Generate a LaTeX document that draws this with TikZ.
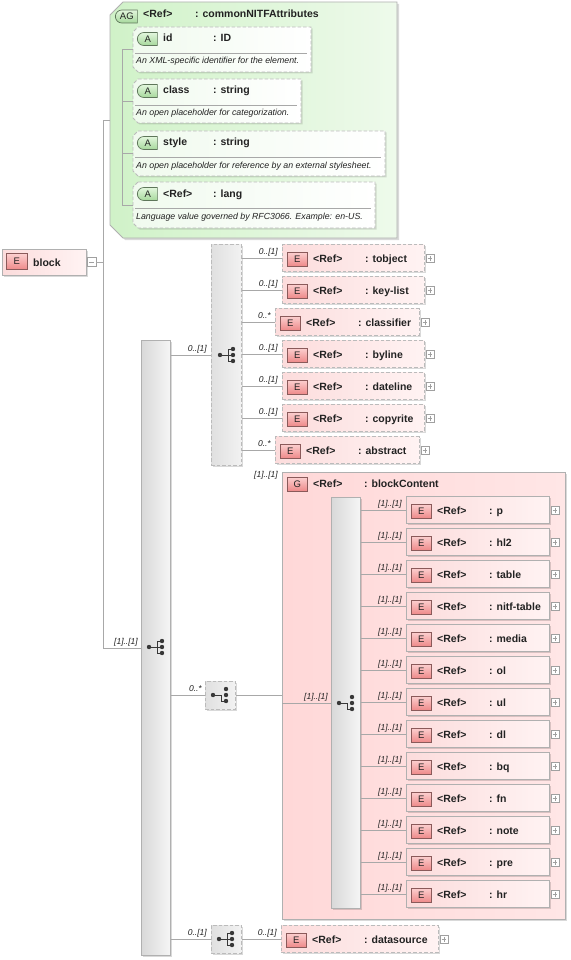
\documentclass[tikz,border=0pt]{standalone}
\usepackage{fontspec}
\setmainfont{Liberation Sans}
\usetikzlibrary{shadows,shapes.misc}
\definecolor{linegray}{HTML}{A8A8A8}
\definecolor{boxgray}{HTML}{B0B0B0}
\definecolor{dashgray}{HTML}{BBBBBB}
\definecolor{txt}{HTML}{222222}
\definecolor{elemL}{HTML}{FCDCDC}
\definecolor{elemR}{HTML}{FFF3F3}
\definecolor{gL}{HTML}{FFD8D8}
\definecolor{gR}{HTML}{FFE6E6}
\definecolor{agL}{HTML}{D0F2C8}
\definecolor{agR}{HTML}{EEFAEB}
\definecolor{atL}{HTML}{F0FAEE}
\definecolor{atR}{HTML}{FFFFFF}
\definecolor{ebT}{HTML}{FCD0D0}
\definecolor{ebB}{HTML}{EE8A8A}
\definecolor{ebD}{HTML}{8A5A5A}
\definecolor{abT}{HTML}{E2F6DC}
\definecolor{abB}{HTML}{A6D89C}
\definecolor{abD}{HTML}{5E765A}
\definecolor{seqL}{HTML}{D8D8D8}
\definecolor{seqR}{HTML}{F6F6F6}
\definecolor{chL}{HTML}{E0E0E0}
\definecolor{chR}{HTML}{F2F2F2}
\definecolor{iconc}{HTML}{383838}
\definecolor{plusgray}{HTML}{A0A0A0}
\tikzset{
 conn/.style={draw=linegray, line width=0.8pt},
 shad/.style={drop shadow={shadow xshift=1.5pt, shadow yshift=-1.5pt, fill=black, opacity=0.15}},
 dsh/.style={draw=dashgray, line width=0.9pt, dash pattern=on 3.5pt off 2pt},
 elem/.style={rectangle, inner sep=0, minimum height=27pt, anchor=west, left color=elemL, right color=elemR, draw=boxgray, line width=0.9pt, shad},
 elemopt/.style={elem, dsh},
 ebadge/.style={rectangle, inner sep=0, minimum width=20pt, minimum height=14pt, anchor=west, draw=ebD, line width=0.7pt, top color=ebT, bottom color=ebB, font=\fontsize{9.5}{10}\selectfont, text=txt},
 abadge/.style={rounded rectangle, rounded rectangle right arc=none, inner sep=0, minimum width=20pt, minimum height=13pt, anchor=west, draw=abD, line width=0.7pt, top color=abT, bottom color=abB, font=\fontsize{9.5}{10}\selectfont, text=txt},
 nm/.style={anchor=base west, inner sep=0, font=\fontsize{10.5}{12}\selectfont\bfseries, text=txt},
 lbl/.style={anchor=base east, inner sep=0, font=\fontsize{8.5}{10}\selectfont\itshape, text=txt},
 dsc/.style={anchor=base west, inner sep=0, font=\fontsize{8.8}{10}\selectfont\itshape, text=txt},
 seqbar/.style={rectangle, anchor=north west, inner sep=0, draw=boxgray, line width=0.9pt, left color=seqL, right color=seqR, shad},
 chbar/.style={rectangle, anchor=north west, inner sep=0, left color=chL, right color=chR, dsh, shad},
 plus/.style={rectangle, inner sep=0, minimum size=8pt, draw=plusgray, fill=white, line width=0.6pt,
   path picture={\draw[plusgray, line width=0.6pt] ([xshift=1.8pt]path picture bounding box.west) -- ([xshift=-1.8pt]path picture bounding box.east) ([yshift=-1.8pt]path picture bounding box.north) -- ([yshift=1.8pt]path picture bounding box.south);}},
 minus/.style={rectangle, inner sep=0, minimum size=9pt, draw=plusgray, fill=white, line width=0.6pt,
   path picture={\draw[plusgray, line width=0.6pt] ([xshift=2pt]path picture bounding box.west) -- ([xshift=-2pt]path picture bounding box.east);}},
 icon/.style={draw=iconc, line width=1pt},
}
\newcommand\elm[8]{%
 \node[#2, minimum width=#5pt] (#1) at (#3,#4) {};
 \node[ebadge] (#1-b) at ([xshift=5pt,yshift=-1pt]#1.west) {E};
 \node[nm] (#1-r) at ([xshift=31pt,yshift=-4pt]#1.west) {<Ref>};
 \node[nm] (#1-n) at ([xshift=83pt,yshift=-4pt]#1.west) {: #6};
 \node[plus] (#1-p) at ([xshift=5pt,yshift=-0.5pt]#1.east) {};
 \node[lbl] (#1-l) at ([xshift=-4pt,yshift=3.5pt]#1.west) {#7};
 \draw[conn] (#1.west -| #8.east) -- (#1.west);
}
\newcommand\attr[8]{%
 \node[anchor=north west, inner sep=0, minimum width=#4pt, minimum height=#5pt] (#1) at (#2,#3) {};
 \fill[black, opacity=0.12] (#2+6.5,#3+1.5) -- (#2+#4+1.5,#3+1.5) -- (#2+#4+1.5,#3+#5+1.5) -- (#2+6.5,#3+#5+1.5) -- (#2+1.5,#3+#5-3.5) -- (#2+1.5,#3+6.5) -- cycle;
 \path[left color=atL, right color=atR, dsh] (#2+5,#3) -- (#2+#4,#3) -- (#2+#4,#3+#5) -- (#2+5,#3+#5) -- (#2,#3+#5-5) -- (#2,#3+5) -- cycle;
 \node[abadge] (#1-b) at (#2+4,#3+12) {A};
 \node[nm] (#1-n) at (#2+30,#3+15) {#6};
 \node[nm] (#1-t) at (#2+80,#3+15) {#7};
 \draw[draw=linegray, line width=0.7pt] (#2+2,#3+26) -- (#2+#4-4,#3+26);
 \node[dsc] (#1-d) at (#2+3,#3+37) {#8};
}
\newcommand\icoA[2]{%
 \draw[icon] (#1-8,#2) -- (#1+5,#2) (#1,#2-6) -- (#1,#2+6) (#1,#2-6) -- (#1+5,#2-6) (#1,#2+6) -- (#1+5,#2+6);
 \fill[iconc] (#1-8,#2) circle (2.2) (#1+5,#2-6) circle (2.2) (#1+5,#2) circle (2.2) (#1+5,#2+6) circle (2.2);
}
\newcommand\icoB[2]{%
 \draw[icon] (#1-8,#2) -- (#1,#2) -- (#1,#2+6) -- (#1+5,#2+6);
 \fill[iconc] (#1-8,#2) circle (2.2) (#1+5,#2-6) circle (2.2) (#1+5,#2) circle (2.2) (#1+5,#2+6) circle (2.2);
}
\begin{document}
\begin{tikzpicture}[x=1pt,y=-1pt]
\useasboundingbox[fill=white] (0,0) rectangle (570,960);
% attribute group
\node[anchor=north west, inner sep=0, minimum width=287pt, minimum height=236pt] (ag) at (110,2) {};
\fill[black, opacity=0.15] (125,4) -- (399,4) -- (399,240) -- (125,240) -- (112,227) -- (112,17) -- cycle;
\path[left color=agL, right color=agR, draw=boxgray, line width=0.9pt] (123,2) -- (397,2) -- (397,238) -- (123,238) -- (110,225) -- (110,15) -- cycle;
\node[abadge, minimum width=22pt] (agb) at (115,16.5) {AG};
\node[nm] (agr) at (143,18) {<Ref>};
\node[nm] (agn) at (195,18) {: commonNITFAttributes};
\attr{a1}{133}{27}{178}{45}{id}{: ID}{An XML-specific identifier for the element.}
\attr{a2}{133}{79}{168}{44}{class}{: string}{An open placeholder for categorization.}
\attr{a3}{133}{131}{252}{45}{style}{: string}{An open placeholder for reference by an external stylesheet.}
\attr{a4}{133}{182}{242}{46}{<Ref>}{: lang}{Language value governed by RFC3066. Example: en-US.}
\coordinate (acomb) at (122,0);
\draw[conn] (a1.west) -- (a1.west -| acomb) -- (a4.west -| acomb) -- (a4.west);
\draw[conn] (a2.west) -- (a2.west -| acomb);
\draw[conn] (a3.west) -- (a3.west -| acomb);
% block
\node[rectangle, inner sep=0, minimum width=84pt, minimum height=26pt, anchor=north west, draw=boxgray, line width=0.9pt, left color=elemL, right color=elemR, shad] (blk) at (2,249) {};
\node[ebadge, minimum width=21pt, minimum height=16pt] (blk-b) at ([xshift=4pt,yshift=1pt]blk.west) {E};
\node[nm] (blk-n) at (33,266) {block};
\node[minus] (bm) at (91.5,262) {};
\coordinate (sp) at (103,262);
% main sequence
\node[seqbar, minimum width=29pt, minimum height=615pt] (seq) at (141,340) {};
\icoA{157}{647}
\draw[conn] (bm.east) -- (sp);
\draw[conn] (ag.west) -| (sp);
\draw[conn] (seq.west) -| (sp);
\node[lbl] (seq-l) at ([xshift=-3pt,yshift=3.5pt]seq.west) {[1]..[1]};
% choice 1
\node[chbar, minimum width=30pt, minimum height=221pt] (ch1) at (211,244) {};
\icoA{228}{355}
\draw[conn] (ch1.west) -- (ch1.west -| seq.east);
\node[lbl] (ch1-l) at ([xshift=-4pt,yshift=3.5pt]ch1.west) {0..[1]};
\elm{tob}{elemopt}{282}{258}{142}{tobject}{0..[1]}{ch1}
\elm{key}{elemopt}{282}{290}{142}{key-list}{0..[1]}{ch1}
\elm{cls}{elemopt}{275}{322}{144}{classifier}{0..*}{ch1}
\elm{byl}{elemopt}{282}{354}{142}{byline}{0..[1]}{ch1}
\elm{dat}{elemopt}{282}{386}{142}{dateline}{0..[1]}{ch1}
\elm{cop}{elemopt}{282}{418}{142}{copyrite}{0..[1]}{ch1}
\elm{abs}{elemopt}{275}{450}{144}{abstract}{0..*}{ch1}
% choice 2 and group
\node[chbar, minimum width=30pt, minimum height=28pt] (ch2) at (205,681) {};
\icoB{221}{695}
\draw[conn] (ch2.west) -- (ch2.west -| seq.east);
\node[lbl] (ch2-l) at ([xshift=-3pt,yshift=3.5pt]ch2.west) {0..*};
\node[rectangle, anchor=north west, inner sep=0, minimum width=283pt, minimum height=447pt, draw=boxgray, line width=0.9pt, left color=gL, right color=gR, shad] (G) at (282,472) {};
\node[ebadge] (G-b) at (287,484) {G};
\node[nm] (G-r) at (313,487) {<Ref>};
\node[nm] (G-n) at (364,487) {: blockContent};
\node[lbl] (G-l) at (278,477) {[1]..[1]};
\draw[conn] (ch2.east) -- (ch2.east -| G.west);
\node[seqbar, minimum width=29pt, minimum height=411pt] (iseq) at (331,497) {};
\icoB{347}{703}
\draw[conn] (iseq.west) -- (iseq.west -| G.west);
\node[lbl] (iseq-l) at ([xshift=-3pt,yshift=3.5pt]iseq.west) {[1]..[1]};
\foreach \ename [count=\k] in {p,hl2,table,nitf-table,media,ol,ul,dl,bq,fn,note,pre,hr} {
 \elm{in\k}{elem}{406}{478+32*\k}{143}{\ename}{[1]..[1]}{iseq}
}
% choice 3
\node[chbar, minimum width=30pt, minimum height=28pt] (ch3) at (211,925) {};
\icoA{227}{939}
\draw[conn] (ch3.west) -- (ch3.west -| seq.east);
\node[lbl] (ch3-l) at ([xshift=-4pt,yshift=3.5pt]ch3.west) {0..[1]};
\elm{dsrc}{elemopt}{281}{939}{157}{datasource}{0..[1]}{ch3}
\end{tikzpicture}
\end{document}
